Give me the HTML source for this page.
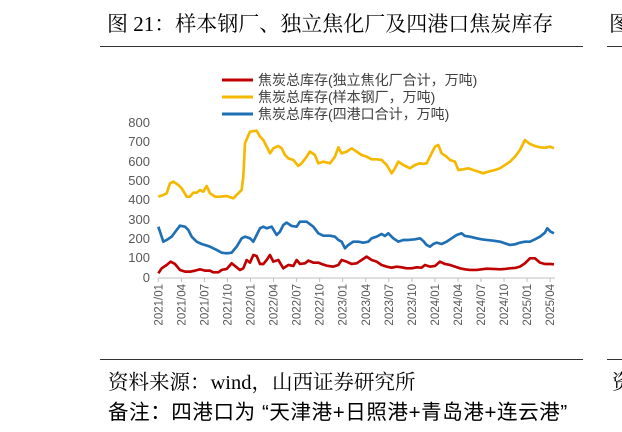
<!DOCTYPE html>
<html><head><meta charset="utf-8"><style>
body{margin:0;width:622px;height:432px;background:#fff;overflow:hidden;position:relative;font-family:"Liberation Serif","Noto Serif CJK SC","Noto Sans CJK SC",serif;}
.t{position:absolute;white-space:nowrap;color:#000;}
</style></head><body>
<div class="t" style="left:107px;top:8px;font-size:21px;">图 21：样本钢厂、独立焦化厂及四港口焦炭库存</div>
<div class="t" style="left:609px;top:8px;font-size:21px;">图</div>
<div style="position:absolute;left:100px;top:46px;width:483px;height:1px;background:#333"></div>
<div style="position:absolute;left:607px;top:46px;width:15px;height:1px;background:#333"></div>
<div style="position:absolute;left:100px;top:359px;width:483px;height:1px;background:#333"></div>
<div style="position:absolute;left:607px;top:359px;width:15px;height:1px;background:#333"></div>
<div class="t" style="left:108px;top:365px;font-size:20.5px;">资料来源：wind，山西证券研究所</div>
<div class="t" style="left:108px;top:395px;font-size:20.5px;font-family:'Liberation Sans','Noto Sans CJK SC',sans-serif;letter-spacing:0.6px;">备注：四港口为 “天津港+日照港+青岛港+连云港”</div>
<div class="t" style="left:612px;top:365px;font-size:20.5px;">资</div>
<svg width="622" height="432" style="position:absolute;left:0;top:0" font-family="Liberation Sans, Noto Sans CJK SC, sans-serif">
<g font-size="13" fill="#595959" text-anchor="end">
<text x="150" y="282">0</text><text x="150" y="262">100</text><text x="150" y="243">200</text><text x="150" y="224">300</text><text x="150" y="204">400</text><text x="150" y="185">500</text><text x="150" y="166">600</text><text x="150" y="146">700</text><text x="150" y="127">800</text>
</g>
<g font-size="14" fill="#404040">
<line x1="222" y1="80" x2="253" y2="80" stroke="#c00000" stroke-width="3"/><text x="258" y="85">焦炭总库存(独立焦化厂合计，万吨)</text>
<line x1="222" y1="97" x2="253" y2="97" stroke="#f5b800" stroke-width="3"/><text x="258" y="102">焦炭总库存(样本钢厂，万吨)</text>
<line x1="222" y1="114" x2="253" y2="114" stroke="#1f6fb5" stroke-width="3"/><text x="258" y="119">焦炭总库存(四港口合计，万吨)</text>
</g>
<line x1="158" y1="278" x2="555" y2="278" stroke="#bfbfbf" stroke-width="1"/>
<g id="ticks" stroke="#bfbfbf"></g>
<g id="xl" font-size="11.5" fill="#595959"></g>
<g transform="translate(100,60) scale(0.3333)" fill="none" stroke-width="8" stroke-linejoin="round">
<polyline stroke="#f5b800" points="175,410 190,405 200,400 210,370 220,365 235,375 245,385 260,410 270,410 280,398 290,398 300,390 310,395 320,378 330,400 345,410 360,410 380,408 400,415 410,405 425,390 430,350 435,250 450,215 470,212 480,230 490,240 500,260 510,280 520,265 535,258 545,265 555,285 565,295 580,300 595,318 605,310 620,290 630,275 645,285 655,310 670,305 690,310 705,290 715,262 725,280 740,275 755,265 770,275 785,285 800,290 815,298 830,298 845,300 860,315 875,340 885,325 895,305 910,315 930,325 945,315 960,310 970,312 980,310 990,290 1005,260 1015,255 1025,280 1040,290 1050,300 1065,305 1075,330 1090,328 1105,325 1120,330 1135,335 1150,340 1165,335 1185,330 1200,325 1215,315 1230,305 1245,290 1260,270 1275,240 1290,252 1305,258 1320,262 1335,263 1350,260 1362,265"/>
<polyline stroke="#1f6fb5" points="175,500 190,545 200,540 215,530 230,510 240,497 255,500 265,510 275,530 290,545 305,552 315,555 330,560 350,570 365,578 380,580 395,578 410,560 425,535 435,530 450,535 460,545 470,525 480,505 490,500 500,505 515,500 530,525 540,515 550,495 560,488 575,498 590,500 600,485 620,485 640,500 655,520 670,527 690,527 705,530 715,540 725,545 735,565 745,555 760,545 775,545 790,548 805,545 815,535 830,530 845,522 855,528 865,520 880,535 895,545 910,540 925,540 945,538 960,535 970,543 980,555 990,560 1000,552 1010,548 1025,552 1040,545 1055,535 1070,525 1085,520 1095,528 1110,530 1130,535 1145,538 1160,540 1180,542 1200,545 1215,550 1230,555 1245,553 1260,548 1275,545 1290,545 1305,538 1320,530 1335,518 1342,505 1352,515 1362,520"/>
<polyline stroke="#c00000" points="175,640 185,625 200,615 212,605 225,612 240,630 255,635 270,635 285,632 300,628 315,632 330,632 340,637 355,637 365,630 380,627 395,610 410,622 420,630 430,625 440,600 450,608 460,585 470,588 480,612 490,612 500,600 510,585 520,605 535,600 550,625 565,615 580,618 590,600 600,612 615,610 625,602 640,608 655,608 665,612 680,617 700,620 715,615 725,600 740,605 755,612 770,610 785,600 800,590 815,600 830,605 845,615 860,620 875,623 890,620 905,622 920,625 935,625 950,622 965,623 975,615 990,620 1005,618 1020,605 1035,612 1050,615 1065,620 1080,625 1095,628 1110,630 1130,630 1145,628 1160,626 1180,627 1200,628 1215,627 1230,625 1245,624 1260,620 1275,610 1290,595 1305,595 1320,608 1335,612 1350,612 1362,613"/>
</g>
</svg>
<script>
var labs=["2021/01","2021/04","2021/07","2021/10","2022/01","2022/04","2022/07","2022/10","2023/01","2023/04","2023/07","2023/10","2024/01","2024/04","2024/07","2024/10","2025/01","2025/04"];
var t=document.getElementById('ticks'),xl=document.getElementById('xl'),ns='http://www.w3.org/2000/svg';
labs.forEach(function(l,i){var x=158.3+i*23.05;
var ln=document.createElementNS(ns,'line');ln.setAttribute('x1',x);ln.setAttribute('x2',x);ln.setAttribute('y1',278);ln.setAttribute('y2',282);t.appendChild(ln);
var tx=document.createElementNS(ns,'text');tx.setAttribute('transform','translate('+(x+4)+',284) rotate(-90)');tx.setAttribute('text-anchor','end');tx.textContent=l;xl.appendChild(tx);});
</script>
</body></html>
